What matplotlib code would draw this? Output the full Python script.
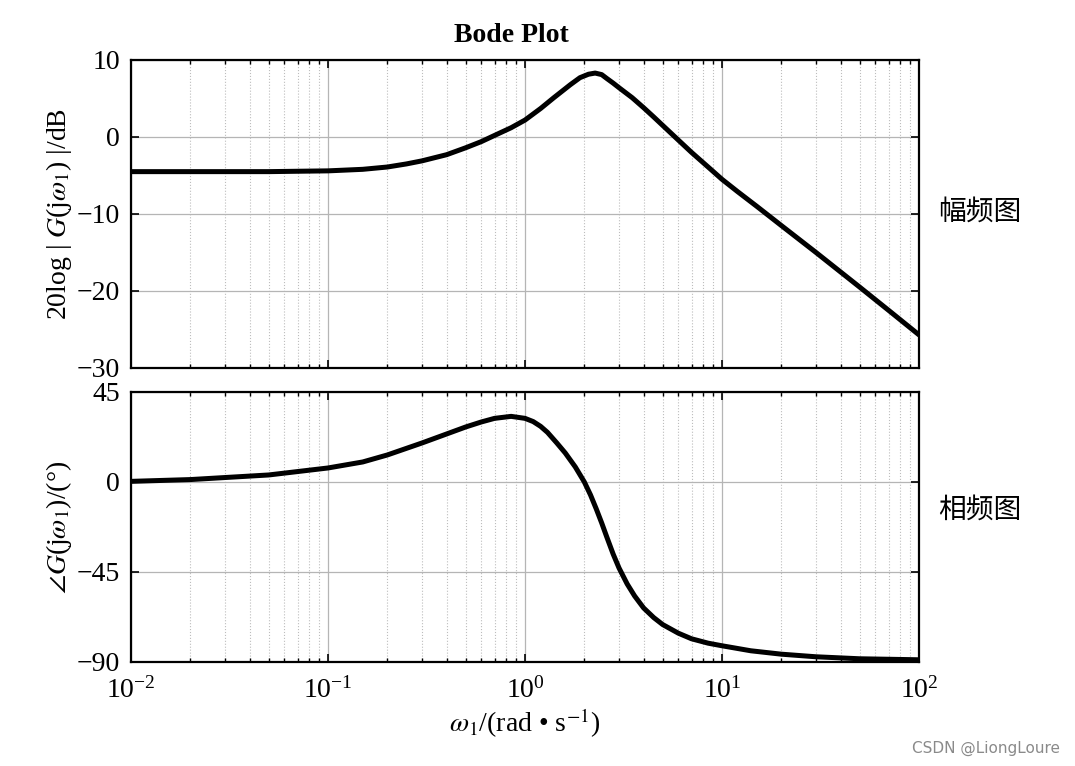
import matplotlib.pyplot as plt
import numpy as np

plt.rcParams['font.family'] = ['Liberation Serif', 'DejaVu Serif']
plt.rcParams['mathtext.fontset'] = 'stix'
plt.rcParams['axes.unicode_minus'] = True

# Magnitude curve
mag_w = [0.01, 0.02, 0.05, 0.1, 0.15, 0.2, 0.25, 0.3, 0.4, 0.5, 0.6, 0.7, 0.85, 1.0,
         1.2, 1.4, 1.7, 1.9, 2.1, 2.27, 2.45, 2.6, 2.8, 3.0, 3.5, 4.0, 4.5, 5.0, 6.0,
         7.0, 8.5, 10, 12, 15, 20, 30, 50, 70, 100]
mag_db = [-4.5, -4.5, -4.5, -4.4, -4.2, -3.9, -3.5, -3.1, -2.3, -1.4, -0.6, 0.2, 1.2, 2.2,
          3.7, 5.1, 6.8, 7.7, 8.15, 8.3, 8.1, 7.6, 7.0, 6.4, 5.1, 3.8, 2.6, 1.5, -0.4,
          -2.0, -3.9, -5.5, -7.1, -9.0, -11.5, -15.0, -19.5, -22.5, -25.7]

# Phase curve
ph_w = [0.01, 0.02, 0.05, 0.1, 0.15, 0.2, 0.3, 0.4, 0.5, 0.6, 0.7, 0.85, 1.0, 1.1,
        1.2, 1.3, 1.45, 1.6, 1.8, 2.0, 2.15, 2.3, 2.45, 2.6, 2.8, 3.0, 3.3, 3.6,
        4.0, 4.5, 5.0, 6.0, 7.0, 8.5, 10, 14, 20, 30, 50, 100]
ph_deg = [0.3, 1.2, 3.5, 7.0, 10.0, 13.5, 19.5, 24.0, 27.5, 30.0, 31.8, 32.8, 31.8, 30.2,
          27.8, 24.8, 19.5, 14.5, 7.5, 0.0, -6.5, -13.5, -20.5, -27.5, -36.0, -43.0, -51.0, -57.0,
          -63.0, -67.8, -71.3, -75.6, -78.4, -80.6, -81.9, -84.4, -86.1, -87.4, -88.4, -88.9]

mag_ticks = [10, 0, -10, -20, -30]
ph_ticks = [45, 0, -45, -90]

fig = plt.figure(figsize=(10.75, 7.66), dpi=100)
ax1 = fig.add_axes([0.1219, 0.5196, 0.733, 0.4021])
ax2 = fig.add_axes([0.1219, 0.1358, 0.733, 0.3525])

for ax in (ax1, ax2):
    ax.set_xscale('log')
    ax.set_xlim(1e-2, 1e2)
    ax.grid(True, which='major', color='#b5b5b5', lw=0.9, ls='-')
    ax.grid(True, which='minor', axis='x', color='#bdbdbd', lw=0.8, ls=':')
    ax.tick_params(which='both', direction='in', top=True, right=True, labelsize=20)
    ax.tick_params(which='major', length=6, width=1.2)
    ax.tick_params(which='minor', length=3, width=1.0)
    ax.tick_params(axis='y', pad=8)
    ax.tick_params(axis='x', pad=11)
    for s in ax.spines.values():
        s.set_linewidth(1.6)
    ax.set_axisbelow(True)

ax1.plot(mag_w, mag_db, color='black', lw=3.6, solid_capstyle='round', solid_joinstyle='round')
ax1.set_ylim(-30, 10)
ax1.set_yticks(mag_ticks)
ax1.tick_params(labelbottom=False)
ax1.set_ylabel(r'20log | $G$(j$\omega_1$) |/dB', fontsize=20, labelpad=2)

ax2.plot(ph_w, ph_deg, color='black', lw=3.6, solid_capstyle='round', solid_joinstyle='round')
ax2.set_ylim(-90, 45)
ax2.set_yticks(ph_ticks)
ax2.set_ylabel(r'$\angle G$(j$\omega_1$)/(°)', fontsize=20, labelpad=2)
ax2.set_xlabel(r'$\omega_1$/(rad • s$^{-1}$)', fontsize=20, labelpad=2)

fig.text(511 / 1075, 1 - 35 / 766, 'Bode Plot', fontsize=20, fontweight='bold',
         ha='center', va='center')
fig.text(980 / 1075, 1 - 212 / 766, '幅频图', fontsize=20, ha='center', va='center',
         family=['Noto Sans CJK SC', 'DejaVu Sans'])
fig.text(980 / 1075, 1 - 510 / 766, '相频图', fontsize=20, ha='center', va='center',
         family=['Noto Sans CJK SC', 'DejaVu Sans'])
fig.text(1060 / 1075, 1 - 748 / 766, 'CSDN @LiongLoure', fontsize=11, color='#8a8a8a',
         ha='right', va='center', family=['DejaVu Sans'])

plt.savefig('out.png', dpi=100)
plt.close(fig)
